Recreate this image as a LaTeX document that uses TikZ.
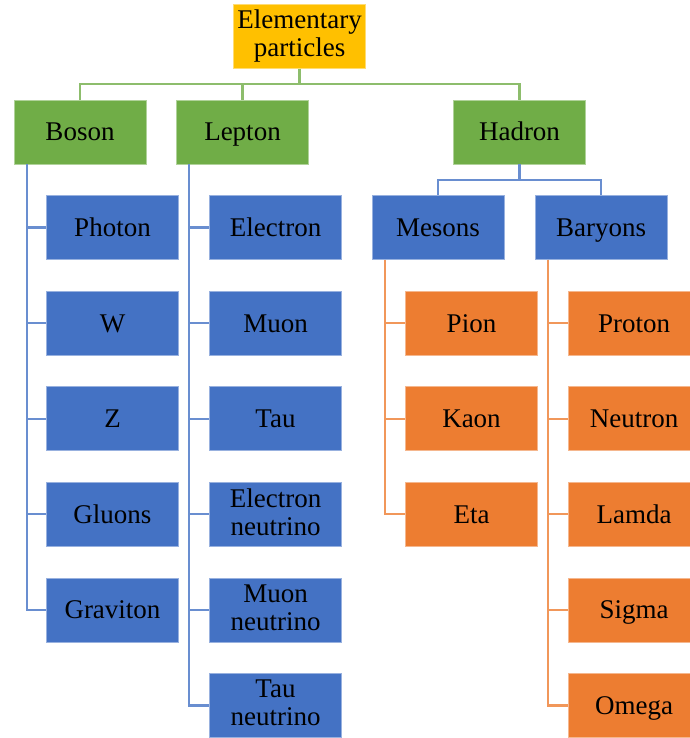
\documentclass[tikz,border=0pt]{standalone}
\usepackage{fontspec}
\setmainfont{Liberation Serif}
\usepackage{tikz}

\definecolor{gold}{HTML}{FFC000}
\definecolor{leaf}{HTML}{70AD47}
\definecolor{sky}{HTML}{4472C4}
\definecolor{rust}{HTML}{ED7D31}

\newcommand\linestrut{\rule[-5pt]{0pt}{28pt}}

\tikzset{
  box/.style={fill=#1, draw=#1!55!white, line width=0.8pt, minimum width=132pt,
    minimum height=64pt, inner sep=0pt, align=center,
    font=\rmfamily\fontsize{27}{28}\selectfont,
    execute at begin node=\linestrut, execute at end node=\linestrut},
  link/.style={draw=#1!80!white, line width=2.1pt}
}

\begin{document}
\begin{tikzpicture}[x=1pt, y=-1pt]
      \useasboundingbox (0,0) rectangle (689,738);
      %Root
      \node[box=gold] (root) at (299.5,36.5) {Elementary\\particles};
      \coordinate (rootmid) at (299.5,84);
      %Families
      \node[box=leaf] (boson) at (80,132) {Boson};
      \node[box=leaf] (lepton) at (242.5,132) {Lepton};
      \node[box=leaf] (hadron) at (519.5,132) {Hadron};
      \foreach \f in {boson, lepton, hadron}
	\draw[link=leaf] (root.south) -- (rootmid) -| (\f.north);
      %Boson children
      \foreach \n/\t [count=\i from 0] in {photon/Photon, w/W, z/Z, gluons/Gluons, graviton/Graviton}
	\node[box=sky] (\n) at (112.5,227.5+95.6*\i) {\t};
      \foreach \n in {photon, w, z, gluons, graviton}
	\draw[link=sky] ([xshift=13pt]boson.south west) |- (\n.west);
      %Lepton children
      \foreach \n/\t [count=\i from 0] in {electron/Electron, muon/Muon, tau/Tau,
          enu/Electron\\neutrino, munu/Muon\\neutrino, taunu/Tau\\neutrino}
	\node[box=sky] (\n) at (275.5,227.5+95.6*\i) {\t};
      \foreach \n in {electron, muon, tau, enu, munu, taunu}
	\draw[link=sky] ([xshift=13pt]lepton.south west) |- (\n.west);
      %Hadron children
      \node[box=sky] (mesons) at (438,227.5) {Mesons};
      \node[box=sky] (baryons) at (601,227.5) {Baryons};
      \coordinate (hadmid) at (519.5,180);
      \foreach \f in {mesons, baryons}
	\draw[link=sky] (hadron.south) -- (hadmid) -| (\f.north);
      %Mesons children
      \foreach \n/\t [count=\i from 1] in {pion/Pion, kaon/Kaon, eta/Eta}
	\node[box=rust] (\n) at (471.5,227.5+95.6*\i) {\t};
      \foreach \n in {pion, kaon, eta}
	\draw[link=rust] ([xshift=13pt]mesons.south west) |- (\n.west);
      %Baryons children
      \foreach \n/\t [count=\i from 1] in {proton/Proton, neutron/Neutron, lamda/Lamda,
          sigma/Sigma, omega/Omega}
	\node[box=rust] (\n) at (634,227.5+95.6*\i) {\t};
      \foreach \n in {proton, neutron, lamda, sigma, omega}
	\draw[link=rust] ([xshift=13pt]baryons.south west) |- (\n.west);
\end{tikzpicture}
\end{document}
